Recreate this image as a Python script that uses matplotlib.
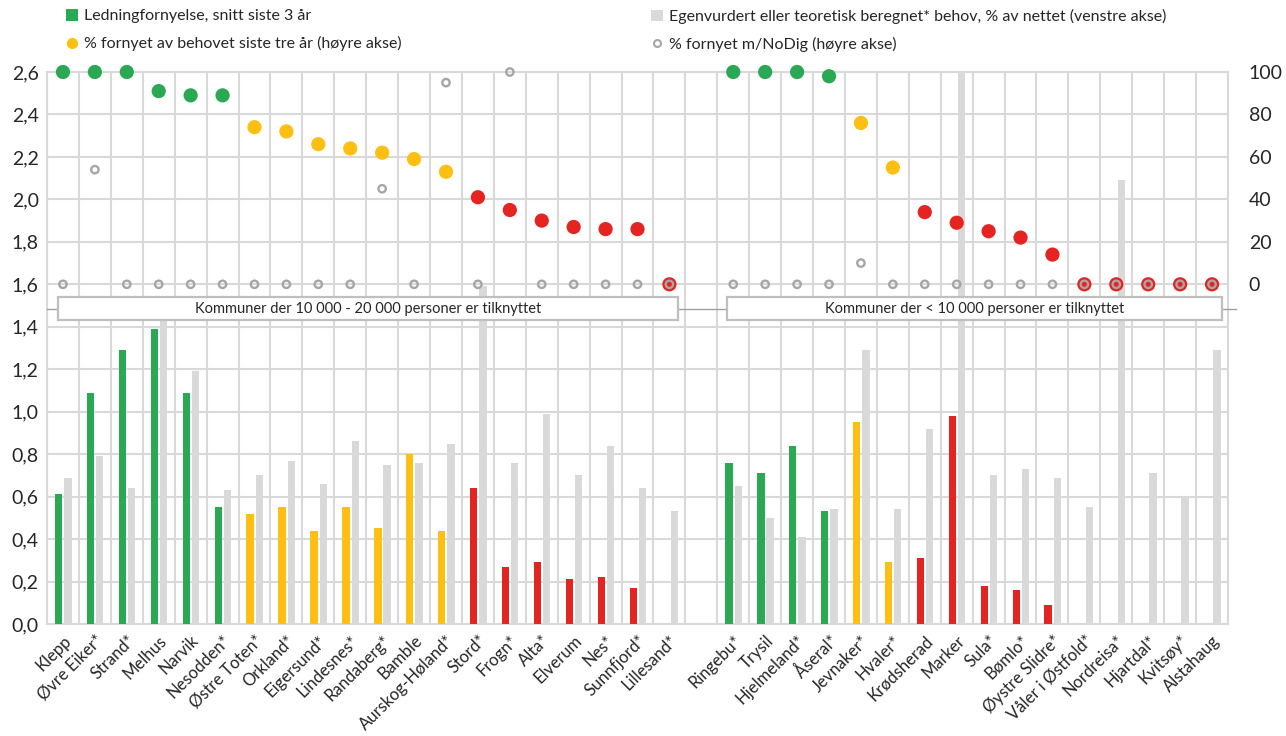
import numpy as np
import matplotlib
matplotlib.use("Agg")
import matplotlib.pyplot as plt
import matplotlib.transforms as mtransforms
from matplotlib.patches import Rectangle, Patch
from matplotlib.lines import Line2D

# ---------------- data ----------------
towns_large = ["Klepp", "Øvre Eiker*", "Strand*", "Melhus", "Narvik", "Nesodden*",
               "Østre Toten*", "Orkland*", "Eigersund*", "Lindesnes*", "Randaberg*",
               "Bamble", "Aurskog-Høland*", "Stord*", "Frogn*", "Alta*", "Elverum",
               "Nes*", "Sunnfjord*", "Lillesand*"]
towns_small = ["Ringebu*", "Trysil", "Hjelmeland*", "Åseral*", "Jevnaker*", "Hvaler*",
               "Krødsherad", "Marker", "Sula*", "Bømlo*", "Øystre Slidre*",
               "Våler i Østfold*", "Nordreisa*", "Hjartdal*", "Kvitsøy*", "Alstahaug"]

status_large = ["g"] * 6 + ["y"] * 7 + ["r"] * 7
status_small = ["g"] * 4 + ["y"] * 2 + ["r"] * 10

renewal_large = [0.61, 1.09, 1.29, 1.39, 1.09, 0.55, 0.52, 0.55, 0.44, 0.55, 0.45,
                 0.80, 0.44, 0.64, 0.27, 0.29, 0.21, 0.22, 0.17, 0.0]
renewal_small = [0.76, 0.71, 0.84, 0.53, 0.95, 0.29, 0.31, 0.98, 0.18, 0.16, 0.09,
                 0.0, 0.0, 0.0, 0.0, 0.0]

need_large = [0.69, 0.79, 0.64, 1.47, 1.19, 0.63, 0.70, 0.77, 0.66, 0.86, 0.75,
              0.76, 0.85, 1.59, 0.76, 0.99, 0.70, 0.84, 0.64, 0.53]
need_small = [0.65, 0.50, 0.41, 0.54, 1.29, 0.54, 0.92, 2.60, 0.70, 0.73, 0.69,
              0.55, 2.09, 0.71, 0.60, 1.29]

pct_need_large = [100, 100, 100, 91, 89, 89, 74, 72, 66, 64, 62, 59, 53, 41, 35, 30,
                  27, 26, 26, 0]
pct_need_small = [100, 100, 100, 98, 76, 55, 34, 29, 25, 22, 14, 0, 0, 0, 0, 0]

pct_nodig_large = [0, 54, 0, 0, 0, 0, 0, 0, 0, 0, 45, 0, 95, 0, 100, 0, 0, 0, 0, 0]
pct_nodig_small = [0, 0, 0, 0, 10, 0, 0, 0, 0, 0, 0, 0, 0, 0, 0, 0]

group_titles = ["Kommuner der 10 000 - 20 000 personer er tilknyttet",
                "Kommuner der < 10 000 personer er tilknyttet"]

legend_labels = ["Ledningfornyelse, snitt siste 3 år",
                 "% fornyet av behovet siste tre år (høyre akse)",
                 "Egenvurdert eller teoretisk beregnet* behov, % av nettet (venstre akse)",
                 "% fornyet m/NoDig (høyre akse)"]

left_ticks = [0.0, 0.2, 0.4, 0.6, 0.8, 1.0, 1.2, 1.4, 1.6, 1.8, 2.0, 2.2, 2.4, 2.6]
right_ticks = [0, 20, 40, 60, 80, 100]

# ---------------- styling ----------------
GREEN = "#2ba853"
YELLOW = "#fdbf11"
RED = "#e52421"
LGRAY = "#d9d9d9"
RING = "#a6a6a6"
TXT = "#262626"
cmap = {"g": GREEN, "y": YELLOW, "r": RED}

plt.rcParams["font.family"] = ["Lato", "DejaVu Sans"]

categories = towns_large + [""] + towns_small
nan = np.nan
renewal = np.array(renewal_large + [nan] + renewal_small)
need = np.array(need_large + [nan] + need_small)
pct_need = np.array(pct_need_large + [nan] + pct_need_small, dtype=float)
pct_nodig = np.array(pct_nodig_large + [nan] + pct_nodig_small, dtype=float)
status = status_large + [None] + status_small
colors = [cmap[s] if s else "none" for s in status]
x = np.arange(len(categories))

fig = plt.figure(figsize=(12.86, 7.36), dpi=100)
ax = fig.add_axes([47 / 1286, 1 - 624 / 736, (1228 - 47) / 1286, (624 - 72) / 736])
ax2 = ax.twinx()

W = 0.23
ax.bar(x - 0.135, renewal, width=W, color=colors, zorder=3)
ax.bar(x + 0.155, need, width=W, color=LGRAY, zorder=3)

ax.set_xlim(-0.5, len(categories) - 0.5)
ax.set_ylim(0, 2.6)
ax.set_yticks(left_ticks)
ax.set_yticklabels([f"{v:.1f}".replace(".", ",") for v in left_ticks])
ax.set_xticks(x)
ax.set_xticklabels(categories, rotation=45, ha="right", va="top",
                   rotation_mode="anchor", fontsize=12, color=TXT)
shift = mtransforms.ScaledTranslation(4 / 100, 0, fig.dpi_scale_trans)
for lbl in ax.get_xticklabels():
    lbl.set_transform(lbl.get_transform() + shift)
ax.set_xticks(np.arange(-0.5, len(categories)), minor=True)
ax.tick_params(axis="both", which="both", length=0)
ax.tick_params(axis="y", labelsize=14, labelcolor=TXT, pad=6)
ax.tick_params(axis="x", pad=6)
ax.grid(axis="y", which="major", color=LGRAY, lw=1.5, zorder=0)
ax.grid(axis="x", which="minor", color=LGRAY, lw=1.5, zorder=0)
ax.set_axisbelow(True)
for sp in ax.spines.values():
    sp.set_color(LGRAY)
    sp.set_linewidth(1.5)

# right axis: 0..100 maps onto left 1.6..2.6
ax2.set_ylim(-160, 100)
ax2.set_yticks(right_ticks)
ax2.tick_params(axis="y", length=0, labelsize=14, labelcolor=TXT, pad=15)
for sp in ax2.spines.values():
    sp.set_visible(False)

ax2.scatter(x, pct_need, s=105, c=colors, edgecolors="none", zorder=3, clip_on=False)
ax2.scatter(x, pct_nodig, s=28, facecolors="none", edgecolors=RING, linewidths=1.7,
            zorder=4, clip_on=False)

# separator line and group boxes
ysep = 1.484
ax.plot([-0.5, len(categories) - 0.5 + 0.25], [ysep, ysep], color="#a0a0a0", lw=1,
        zorder=4, clip_on=False)
n1 = len(towns_large)
boxes = [(-0.155, n1 - 0.73), (n1 + 0.8, len(categories) - 0.7)]
for (x0, x1), title in zip(boxes, group_titles):
    ax.add_patch(Rectangle((x0, 1.432), x1 - x0, 0.108, facecolor="white",
                           edgecolor="#bfbfbf", lw=1.6, zorder=5))
    ax.text((x0 + x1) / 2, 1.486, title, ha="center", va="center", fontsize=10.5,
            color=TXT, zorder=6)

# legend
h1 = [Patch(facecolor=GREEN, edgecolor="none"),
      Line2D([], [], ls="none", marker="o", ms=8, mfc=YELLOW, mec="none")]
h2 = [Patch(facecolor=LGRAY, edgecolor="none"),
      Line2D([], [], ls="none", marker="o", ms=5, mfc="none", mec=RING, mew=1.5)]
kw = dict(loc="upper left", frameon=False, fontsize=11.5, handlelength=0.75,
          handleheight=0.75, handletextpad=0.35, labelspacing=0.8, borderpad=0,
          borderaxespad=0, labelcolor=TXT)
fig.legend(h1, legend_labels[:2], bbox_to_anchor=(66 / 1286, 1 - 9 / 736), **kw)
fig.legend(h2, legend_labels[2:], bbox_to_anchor=(651 / 1286, 1 - 9 / 736), **kw)

fig.savefig("out.png", dpi=100, facecolor="white")
